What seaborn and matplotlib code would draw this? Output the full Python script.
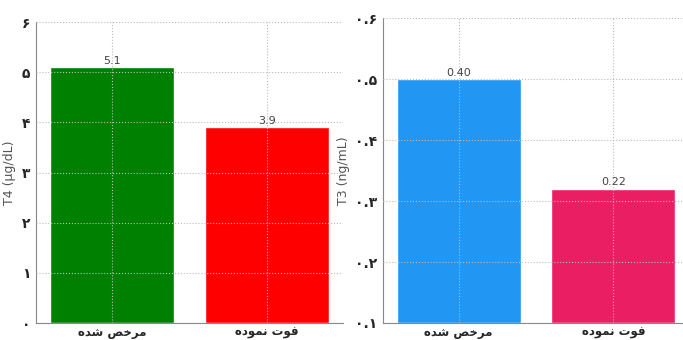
import matplotlib
matplotlib.use("Agg")
import matplotlib.pyplot as plt
import seaborn as sns
import pandas as pd

# data
categories = ["مرخص شده", "فوت نموده"]
t4_values = [5.1, 3.9]
t3_values = [0.40, 0.22]
t4_colors = ["#008000", "#FF0000"]
t3_colors = ["#2196F3", "#E91E63"]
t4_ticks = [0, 1, 2, 3, 4, 5, 6]
t4_ticklabels = ["۰", "۱", "۲", "۳", "۴", "۵", "۶"]
t3_ticks = [0.0, 0.1, 0.2, 0.3, 0.4, 0.5]
t3_ticklabels = ["۰.۱", "۰.۲", "۰.۳", "۰.۴", "۰.۵", "۰.۶"]

# tiny Persian shaper (matplotlib does not join letters or do RTL)
FORMS = {
    "م": (0xFEE1, 0xFEE2, 0xFEE3, 0xFEE4),
    "ر": (0xFEAD, 0xFEAE, None, None),
    "خ": (0xFEA5, 0xFEA6, 0xFEA7, 0xFEA8),
    "ص": (0xFEB9, 0xFEBA, 0xFEBB, 0xFEBC),
    "ش": (0xFEB5, 0xFEB6, 0xFEB7, 0xFEB8),
    "د": (0xFEA9, 0xFEAA, None, None),
    "ه": (0xFEE9, 0xFEEA, 0xFEEB, 0xFEEC),
    "ف": (0xFED1, 0xFED2, 0xFED3, 0xFED4),
    "و": (0xFEED, 0xFEEE, None, None),
    "ت": (0xFE95, 0xFE96, 0xFE97, 0xFE98),
    "ن": (0xFEE5, 0xFEE6, 0xFEE7, 0xFEE8),
}


def shape(text):
    out = []
    for i, ch in enumerate(text):
        if ch not in FORMS:
            out.append(ch)
            continue
        prev = text[i - 1] if i > 0 else None
        nxt = text[i + 1] if i + 1 < len(text) else None
        join_prev = prev in FORMS and FORMS[prev][2] is not None
        join_next = FORMS[ch][2] is not None and nxt in FORMS
        f = FORMS[ch]
        if join_prev and join_next:
            code = f[3]
        elif join_prev:
            code = f[1]
        elif join_next:
            code = f[2]
        else:
            code = f[0]
        out.append(chr(code))
    return "".join(reversed(out))


sns.set_style("whitegrid", {"grid.linestyle": ":", "grid.color": "#bbbbbb",
                            "axes.edgecolor": "#888888"})
plt.rcParams["font.family"] = ["DejaVu Sans", "Noto Sans"]

fig = plt.figure(figsize=(6.83, 3.40), dpi=100)
ax1 = fig.add_axes([0.0527, 0.05, 0.4495, 0.885])
ax2 = fig.add_axes([0.5608, 0.05, 0.448, 0.897])

labels = [shape(c) for c in categories]
df4 = pd.DataFrame({"group": labels, "value": t4_values})
df3 = pd.DataFrame({"group": labels, "value": t3_values})

sns.barplot(data=df4, x="group", y="value", hue="group", palette=t4_colors,
            width=0.8, legend=False, ax=ax1, saturation=1)
sns.barplot(data=df3, x="group", y="value", hue="group", palette=t3_colors,
            width=0.8, legend=False, ax=ax2, saturation=1)

for ax, fmt in [(ax1, "%.1f"), (ax2, "%.2f")]:
    for cont in ax.containers:
        ax.bar_label(cont, fmt=fmt, padding=1, fontsize=8, color="#444444")
    ax.set_xlabel("")
    ax.set_xlim(-0.49, 1.49)
    ax.set_axisbelow(False)
    ax.grid(True, axis="both", linestyle=":", color="#bbbbbb", linewidth=0.8)
    for s in ["top", "right"]:
        ax.spines[s].set_visible(False)
    ax.tick_params(axis="x", length=0, pad=2)
    ax.tick_params(axis="y", length=2, width=0.8, color="#888888", pad=2)
    for t in ax.get_xticklabels():
        t.set_fontweight("bold")
        t.set_fontsize(8.5)

ax1.set_ylim(0, 6)
ax1.set_yticks(t4_ticks)
ax1.set_yticklabels(t4_ticklabels, fontweight="bold", fontsize=10)
ax1.set_ylabel("T4 (µg/dL)", color="#555555", fontsize=9, labelpad=4)

ax2.set_ylim(0, 0.5)
ax2.set_yticks(t3_ticks)
ax2.set_yticklabels(t3_ticklabels, fontweight="bold", fontsize=10)
ax2.set_ylabel("T3 (ng/mL)", color="#555555", fontsize=9, labelpad=4)

fig.savefig("out.png", dpi=100)
